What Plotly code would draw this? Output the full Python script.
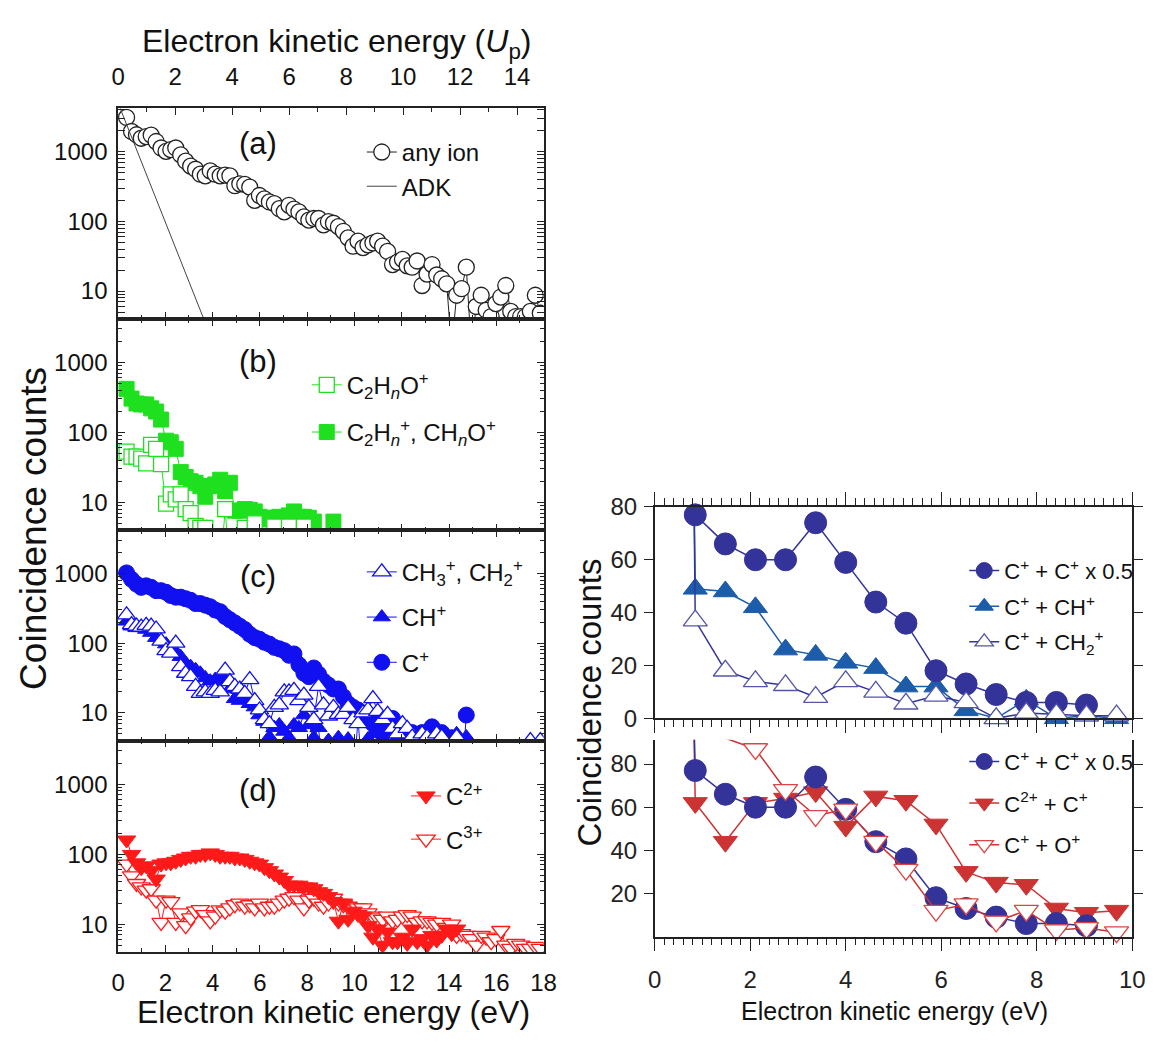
import plotly.graph_objects as go

W, H = 1163, 1044          # reference image size; layout positions are fractions of it
FONT = "Liberation Sans, Arial, sans-serif"

# ---------------- data: left panels (energy grid in eV) ----------------
energy_eV = [0.36, 0.57, 0.78, 0.98, 1.19, 1.40, 1.61, 1.82, 2.03, 2.23,
             2.44, 2.65, 2.86, 3.07, 3.28, 3.48, 3.69, 3.90, 4.11, 4.32,
             4.53, 4.73, 4.94, 5.15, 5.36, 5.57, 5.78, 5.98, 6.19, 6.40,
             6.61, 6.82, 7.03, 7.23, 7.44, 7.65, 7.86, 8.07, 8.28, 8.48,
             8.69, 8.90, 9.11, 9.32, 9.53, 9.73, 9.94, 10.15, 10.36, 10.57,
             10.78, 10.98, 11.19, 11.40, 11.61, 11.82, 12.03, 12.23, 12.44, 12.65,
             12.86, 13.07, 13.28, 13.48, 13.69, 13.90, 14.11, 14.32, 14.53, 14.73,
             14.94, 15.15, 15.36, 15.57, 15.78, 15.98, 16.19, 16.40, 16.61, 16.82,
             17.03, 17.23, 17.44, 17.65, 17.86]

any_ion = [3100, 1950, 1750, 1560, 1650, 1730, 1400, 1130, 1010, 1070,
           1130, 900, 730, 620, 560, 475, 450, 530, 475, 450,
           460, 450, 325, 345, 340, 310, 200, 235, 210, 190,
           180, 152, 137, 170, 150, 137, 116, 104, 110, 110,
           89, 99, 94, 84, 72, 58, 44, 52, 42, 46,
           49, 52, 44, 37, 24, 26, 28.5, 23, 22, 27,
           12, 17.5, 24, 17, 15, 12.7, 1.5, 8.7, 10.8, 22,
           1.5, 6, 8.7, 5.3, 4.3, 6.6, 8.2, 12, 5.1, 4.3,
           4.3, 4.3, 5.1, 8.7, 4.8]

adk_energy = [0, 1, 2, 3, 4]
adk_counts = [5000, 700, 98, 14, 1.9]

c2hno = [53, 45, 45, 42, 36, 66, 58, 35, 9.6, 13,
         11, 13, 8, 7, 4.6, 4.3, 4.3, 1, 1, 1,
         8, 1, 1, 1, 4.3, 1, 5, 1, 1, 1,
         4.5, 1, 1, 4.5, 1, 1, 4.5, 1]

c2hn_chno = [417, 303, 258, 250, 250, 220, 198, 152, 76, 72,
             58, 27, 23, 20, 19, 17, 12, 17, 18, 21,
             14.5, 19, 7.6, 7.6, 8, 7.8, 7.4, 6.2, 5.7, 6,
             6, 6.2, 6, 6.5, 7.4, 6.2, 6.2, 6, 5.3, 1,
             1, 1, 5.3]

ch3_ch2 = [255, 185, 176, 170, 180, 176, 160, 107, 78, 72,
           100, 46, 37, 33, 24, 19, 20, 19, 21, 20,
           41, 28, 24, 22, 19, 30, 15, 11, 8, 7,
           12, 13, 20, 20, 21, 15, 18, 12, 8, 24,
           13, 9, 12, 9.5, 9.5, 12, 8, 7, 10, 11,
           16, 10.5, 8, 9.5, 6, 5, 7, 6, 4.5, 1,
           5, 4.5, 1, 5, 4.5, 1, 1, 4.5, 1, 1,
           1, 1, 1, 1, 1, 1, 1, 1, 1, 1,
           1, 1, 4, 1, 4]

ch_plus = [206, 175, 166, 166, 157, 142, 120, 108, 97, 78,
           75, 64, 51, 46, 41.5, 37, 31.7, 28.5, 30, 31.7,
           30, 21.9, 15.9, 15, 15.9, 13.5, 12.1, 9.3, 7.5, 4.5,
           6.1, 6.7, 5.4, 4.4, 6.7, 6.1, 9.3, 6.7, 4.4, 6.1,
           1, 4, 1, 4.4, 1, 4.2, 1, 8, 1, 4.2,
           5, 1, 4.4, 5.5, 1, 4.2, 6, 1, 4.4, 5,
           1, 4.4, 1, 5, 4.2, 1, 4.4, 5, 1, 4.5]

c_plus = [1020, 825, 704, 632, 665, 632, 567, 567, 537, 483,
          457, 457, 434, 412, 370, 370, 351, 333, 299, 283,
          241, 217, 195, 175, 157, 134, 120, 114, 103, 97,
          87, 83, 78, 67, 70, 49, 37, 33, 44, 36,
          28.5, 25, 22, 22, 17, 13.5, 12, 11, 9.5, 8.8,
          7, 7.5, 5.5, 1, 8.3, 5, 6, 4.5, 5.2, 1,
          5.2, 4.5, 6.3, 1, 5.2, 1, 4.4, 1, 1, 9.3]

c2_plus = [159, 99, 75, 64, 68, 58, 44, 72, 75, 75,
           79, 84, 88, 93, 93, 99, 99, 104, 99, 93,
           93, 93, 88, 88, 84, 79, 75, 72, 64, 58,
           52, 47, 42, 36, 36, 36, 34, 34, 32, 29,
           27.5, 24.7, 21, 11, 20, 11.7, 15.3, 13.7, 13, 9.5,
           6.5, 8.5, 5, 7.7, 5.6, 5.6, 6.5, 5.3, 8.5, 5.6,
           6.2, 5, 6.9, 5.9, 6.9, 8.5, 7.3, 8.5]

c3_plus = [72, 49, 38, 34, 30.5, 32, 22, 10.6, 22, 21,
           10.6, 14.5, 9.5, 12.3, 15.3, 16.1, 13.7, 11.1, 13, 16,
           15.3, 17, 18.9, 20, 18, 18.9, 17, 20, 17, 18,
           18, 20, 22, 23.4, 24.7, 22, 17, 22, 23.4, 20,
           18, 20, 23.4, 20, 18.9, 18, 16, 17, 17, 14.5,
           13, 12.3, 11.7, 13, 11.1, 11.7, 13, 13.7, 13, 10.6,
           11.1, 11.1, 10.6, 10, 10.6, 9, 10, 6.9, 7.3, 6.9,
           6.2, 5, 6.9, 6.5, 5.6, 6.2, 8.1, 5, 4.5, 5.3,
           5, 4.5, 4.5, 4.8, 4.5]

# ---------------- data: right panels (coincidence pairs) ----------------
pair_energy = [0.80, 0.85, 1.48, 2.11, 2.74, 3.37, 4.00, 4.63, 5.26, 5.89,
               6.52, 7.15, 7.78, 8.41, 9.04, 9.67]
cc_half = [120, 77, 66, 60, 60, 74, 59, 44, 36, 18, 13, 9, 6, 6, 5, None]
c_ch = [120, 49, 48, 42, 26, 24, 21, 19, 12, 12, 3, 0, 7, 0, 1, 0]
c_ch2 = [120, 37, 18, 14, 12.5, 8, 14, 10, 5.5, 8.5, 6, 0, 2, 1.5, 1, 1]
c2_c = [120, 62, 44, 62, 64, 67, 51, 65, 63, 52, 30, 25, 24, 13, 11, 12]
c_o = [None, None, 92, 87, 68, 56, 59, 44, 31, 12, 15, 7, 12, 3, 4, 2]

UP_RANGE = [0, 80]
LO_RANGE = [0, 91.3]


def sizes(vals, s, ymax):
    return [0 if (v is not None and v > ymax) else s for v in vals]


def xs(vals):
    return energy_eV[:len(vals)]


fig = go.Figure()

BLACK = "#222222"
GREEN = "#1fe01f"
BLUE = "#1010f0"
RED = "#ff1a1a"
NAVY = "#333399"
STEEL = "#1c5ca8"
BRICK = "#cc3333"

# (a)
fig.add_trace(go.Scatter(x=xs(any_ion), y=any_ion, mode="lines+markers", name="any ion",
                         line=dict(color=BLACK, width=1),
                         marker=dict(symbol="circle", size=16, color="white", line=dict(color=BLACK, width=1.3)),
                         xaxis="x", yaxis="y", legend="legend", legendgroup="a1", legendrank=1))
fig.add_trace(go.Scatter(x=adk_energy, y=adk_counts, mode="lines", name="ADK",
                         line=dict(color="#444444", width=1),
                         xaxis="x", yaxis="y", legend="legend", legendgroup="a2", legendrank=2))
fig.add_trace(go.Scatter(x=[None], y=[None], xaxis="x7", yaxis="y", showlegend=False, hoverinfo="skip"))

# (b)
fig.add_trace(go.Scatter(x=xs(c2hn_chno), y=c2hn_chno, mode="lines+markers",
                         name="C<sub>2</sub>H<sub><i>n</i></sub><sup>+</sup>, CH<sub><i>n</i></sub>O<sup>+</sup>",
                         line=dict(color=GREEN, width=1),
                         marker=dict(symbol="square", size=15, color=GREEN, line=dict(color=GREEN, width=1)),
                         xaxis="x2", yaxis="y2", legend="legend2", legendgroup="b2", legendrank=2))
fig.add_trace(go.Scatter(x=xs(c2hno), y=c2hno, mode="lines+markers",
                         name="C<sub>2</sub>H<sub><i>n</i></sub>O<sup>+</sup>",
                         line=dict(color=GREEN, width=1),
                         marker=dict(symbol="square", size=15, color="white", line=dict(color=GREEN, width=1.3)),
                         xaxis="x2", yaxis="y2", legend="legend2", legendgroup="b1", legendrank=1))

# (c)
fig.add_trace(go.Scatter(x=xs(c_plus), y=c_plus, mode="lines+markers", name="C<sup>+</sup>",
                         line=dict(color=BLUE, width=1),
                         marker=dict(symbol="circle", size=16, color=BLUE, line=dict(color=BLUE, width=1)),
                         xaxis="x3", yaxis="y3", legend="legend3", legendgroup="c3", legendrank=3))
fig.add_trace(go.Scatter(x=xs(ch_plus), y=ch_plus, mode="lines+markers", name="CH<sup>+</sup>",
                         line=dict(color=BLUE, width=1),
                         marker=dict(symbol="triangle-up", size=15, color=BLUE, line=dict(color=BLUE, width=1)),
                         xaxis="x3", yaxis="y3", legend="legend3", legendgroup="c2", legendrank=2))
fig.add_trace(go.Scatter(x=xs(ch3_ch2), y=ch3_ch2, mode="lines+markers",
                         name="CH<sub>3</sub><sup>+</sup>, CH<sub>2</sub><sup>+</sup>",
                         line=dict(color=BLUE, width=1),
                         marker=dict(symbol="triangle-up", size=16, color="white", line=dict(color=BLUE, width=1.3)),
                         xaxis="x3", yaxis="y3", legend="legend3", legendgroup="c1", legendrank=1))

# (d)
fig.add_trace(go.Scatter(x=xs(c3_plus), y=c3_plus, mode="lines+markers", name="C<sup>3+</sup>",
                         line=dict(color=RED, width=1),
                         marker=dict(symbol="triangle-down", size=16, color="white", line=dict(color=RED, width=1.3)),
                         xaxis="x4", yaxis="y4", legend="legend4", legendgroup="d2", legendrank=2))
fig.add_trace(go.Scatter(x=xs(c2_plus), y=c2_plus, mode="lines+markers", name="C<sup>2+</sup>",
                         line=dict(color=RED, width=1),
                         marker=dict(symbol="triangle-down", size=16, color=RED, line=dict(color=RED, width=1)),
                         xaxis="x4", yaxis="y4", legend="legend4", legendgroup="d1", legendrank=1))

# right upper
fig.add_trace(go.Scatter(x=pair_energy, y=c_ch, mode="lines+markers", name="C<sup>+</sup> + CH<sup>+</sup>",
                         line=dict(color=STEEL, width=1.5), cliponaxis=False,
                         marker=dict(symbol="triangle-up", size=sizes(c_ch, 21, UP_RANGE[1]), color=STEEL,
                                     opacity=1, line=dict(color=STEEL, width=1)),
                         xaxis="x5", yaxis="y5", legend="legend5", legendgroup="e2", legendrank=2))
fig.add_trace(go.Scatter(x=pair_energy, y=cc_half, mode="lines+markers", name="C<sup>+</sup> + C<sup>+</sup> x 0.5",
                         line=dict(color=NAVY, width=1.5), cliponaxis=False,
                         marker=dict(symbol="circle", size=sizes(cc_half, 22, UP_RANGE[1]), color=NAVY,
                                     opacity=1, line=dict(color=NAVY, width=1)),
                         xaxis="x5", yaxis="y5", legend="legend5", legendgroup="e1", legendrank=1))
fig.add_trace(go.Scatter(x=pair_energy, y=c_ch2, mode="lines+markers", name="C<sup>+</sup> + CH<sub>2</sub><sup>+</sup>",
                         line=dict(color=NAVY, width=1.5), cliponaxis=False,
                         marker=dict(symbol="triangle-up", size=sizes(c_ch2, 21, UP_RANGE[1]), color="white",
                                     opacity=1, line=dict(color="#5555aa", width=1.3)),
                         xaxis="x5", yaxis="y5", legend="legend5", legendgroup="e3", legendrank=3))

# right lower
fig.add_trace(go.Scatter(x=pair_energy, y=c2_c, mode="lines+markers", name="C<sup>2+</sup> + C<sup>+</sup>",
                         line=dict(color=BRICK, width=1.5), cliponaxis=False,
                         marker=dict(symbol="triangle-down", size=sizes(c2_c, 21, LO_RANGE[1]), color=BRICK,
                                     opacity=1, line=dict(color=BRICK, width=1)),
                         xaxis="x6", yaxis="y6", legend="legend6", legendgroup="f2", legendrank=2))
fig.add_trace(go.Scatter(x=pair_energy, y=cc_half, mode="lines+markers", name="C<sup>+</sup> + C<sup>+</sup> x 0.5",
                         line=dict(color=NAVY, width=1.5), cliponaxis=False,
                         marker=dict(symbol="circle", size=sizes(cc_half, 22, LO_RANGE[1]), color=NAVY,
                                     opacity=1, line=dict(color=NAVY, width=1)),
                         xaxis="x6", yaxis="y6", legend="legend6", legendgroup="f1", legendrank=1))
fig.add_trace(go.Scatter(x=pair_energy, y=c_o, mode="lines+markers", name="C<sup>+</sup> + O<sup>+</sup>",
                         line=dict(color=BRICK, width=1.5), cliponaxis=False,
                         marker=dict(symbol="triangle-down", size=sizes(c_o, 21, LO_RANGE[1]), color="white",
                                     opacity=1, line=dict(color="#dd4444", width=1.3)),
                         xaxis="x6", yaxis="y6", legend="legend6", legendgroup="f3", legendrank=3))


def fx(p):
    return p / W


def fy(p):
    return 1 - p / H


LEFT_X = [fx(113), fx(546)]
RIGHT_X = [fx(659), fx(1145)]
TICKFONT = dict(family=FONT, size=24, color="#111111")
RTICKFONT = dict(family=FONT, size=24, color="#222222")

log_minor = [m * 10 ** k for k in range(0, 4) for m in range(2, 10)]


def left_x(show_labels=False, mirror="allticks"):
    return dict(domain=LEFT_X, range=[0, 18], tick0=0, dtick=2, ticks="inside", ticklen=7, tickwidth=1.2,
                tickcolor=BLACK, minor=dict(dtick=1, ticks="inside", ticklen=4, tickcolor=BLACK, showgrid=False),
                showline=True, linecolor=BLACK, linewidth=1.5, mirror=mirror, showgrid=False, zeroline=False,
                showticklabels=show_labels, tickfont=TICKFONT, ticklabelstandoff=8)


def left_y(dom, anchor):
    return dict(domain=dom, anchor=anchor, type="log", range=[0.6, 3.62], tickvals=[10, 100, 1000],
                ticktext=["10", "100", "1000"], ticks="inside", ticklen=7, tickwidth=1.2, tickcolor=BLACK,
                minor=dict(tickvals=log_minor, ticks="inside", ticklen=4, tickcolor=BLACK, showgrid=False),
                showline=True, linecolor=BLACK, linewidth=1.5, mirror="allticks", showgrid=False,
                zeroline=False, tickfont=TICKFONT, ticklabelstandoff=4)


xa = left_x(mirror=False); xa["anchor"] = "y"
xb = left_x(); xb["anchor"] = "y2"
xc = left_x(); xc["anchor"] = "y3"
xd = left_x(show_labels=True); xd["anchor"] = "y4"

right_common_x = dict(domain=RIGHT_X, range=[0, 10], tick0=0, dtick=2, ticks="outside", ticklen=13,
                      tickwidth=1.2, tickcolor=BLACK,
                      minor=dict(dtick=0.2, ticks="outside", ticklen=7, tickcolor=BLACK, showgrid=False),
                      showline=True, linecolor=BLACK, linewidth=1.5, showgrid=False, zeroline=False,
                      tickfont=RTICKFONT, ticklabelstandoff=8)
xe = dict(right_common_x, anchor="y5", mirror="allticks", showticklabels=False)
xf = dict(right_common_x, anchor="y6", mirror=False, showticklabels=True)

right_common_y = dict(ticks="outside", ticklen=9, tickwidth=1.2, tickcolor=BLACK, showline=True,
                      linecolor=BLACK, linewidth=1.5, mirror="ticks", showgrid=False, zeroline=False,
                      tickfont=RTICKFONT, ticklabelstandoff=2)
ye = dict(right_common_y, domain=[fy(723), fy(506)], anchor="x5", range=UP_RANGE, tickvals=[0, 20, 40, 60, 80])
yf = dict(right_common_y, domain=[fy(947), fy(745)], anchor="x6", range=LO_RANGE, tickvals=[20, 40, 60, 80])

up_axis = dict(overlaying="x", side="top", anchor="y", range=[0, 14.93], tick0=0, dtick=2, ticks="inside",
               ticklen=7, tickwidth=1.2, tickcolor=BLACK,
               minor=dict(dtick=1, ticks="inside", ticklen=4, tickcolor=BLACK, showgrid=False),
               showline=True, linecolor=BLACK, linewidth=1.5, showgrid=False, zeroline=False,
               tickfont=TICKFONT, ticklabelstandoff=12)


def legend(xp, yp, size=24, gap=6):
    return dict(x=fx(xp), y=fy(yp), xanchor="left", yanchor="top", bgcolor="rgba(0,0,0,0)",
                font=dict(family=FONT, size=size, color="#111111"), tracegroupgap=gap,
                itemclick=False, itemdoubleclick=False)


def label(text, xp, yp, size=31, **kw):
    return dict(text=text, x=fx(xp), y=fy(yp), xref="paper", yref="paper", showarrow=False,
                font=dict(family=FONT, size=size, color="#111111"), xanchor="center", yanchor="middle", **kw)


fig.update_layout(
    width=W, height=H, autosize=False,
    margin=dict(l=0, r=0, t=0, b=0, pad=0),
    paper_bgcolor="white", plot_bgcolor="white",
    font=dict(family=FONT, color="#111111"),
    xaxis=xa, yaxis=left_y([fy(313), fy(97)], "x"),
    xaxis2=xb, yaxis2=left_y([fy(530), fy(313)], "x2"),
    xaxis3=xc, yaxis3=left_y([fy(746), fy(530)], "x3"),
    xaxis4=xd, yaxis4=left_y([fy(963), fy(746)], "x4"),
    xaxis5=xe, yaxis5=ye,
    xaxis6=xf, yaxis6=yf,
    xaxis7=up_axis,
    legend=legend(361, 119, gap=0),
    legend2=legend(305, 358, gap=13),
    legend3=legend(361, 550, gap=11),
    legend4=legend(406, 780, gap=9),
    legend5=legend(974, 550, size=22, gap=4),
    legend6=legend(974, 746, size=22, gap=10),
    annotations=[
        label("Electron kinetic energy (<i>U</i><sub>p</sub>)", 335, 30, size=32),
        label("Electron kinetic energy (eV)", 332, 1024, size=32),
        label("Coincidence counts", 27, 528, size=37, textangle=-90),
        label("Coincidence counts", 593, 707, size=33, textangle=-90),
        label("Electron kinetic energy (eV)", 903, 1023, size=25),
        label("(a)", 255, 133), label("(b)", 255, 357),
        label("(c)", 255, 577), label("(d)", 255, 797),
    ],
)

fig.write_html("out.html", config={"displayModeBar": False},
               post_script="document.body.style.margin='0px';")
